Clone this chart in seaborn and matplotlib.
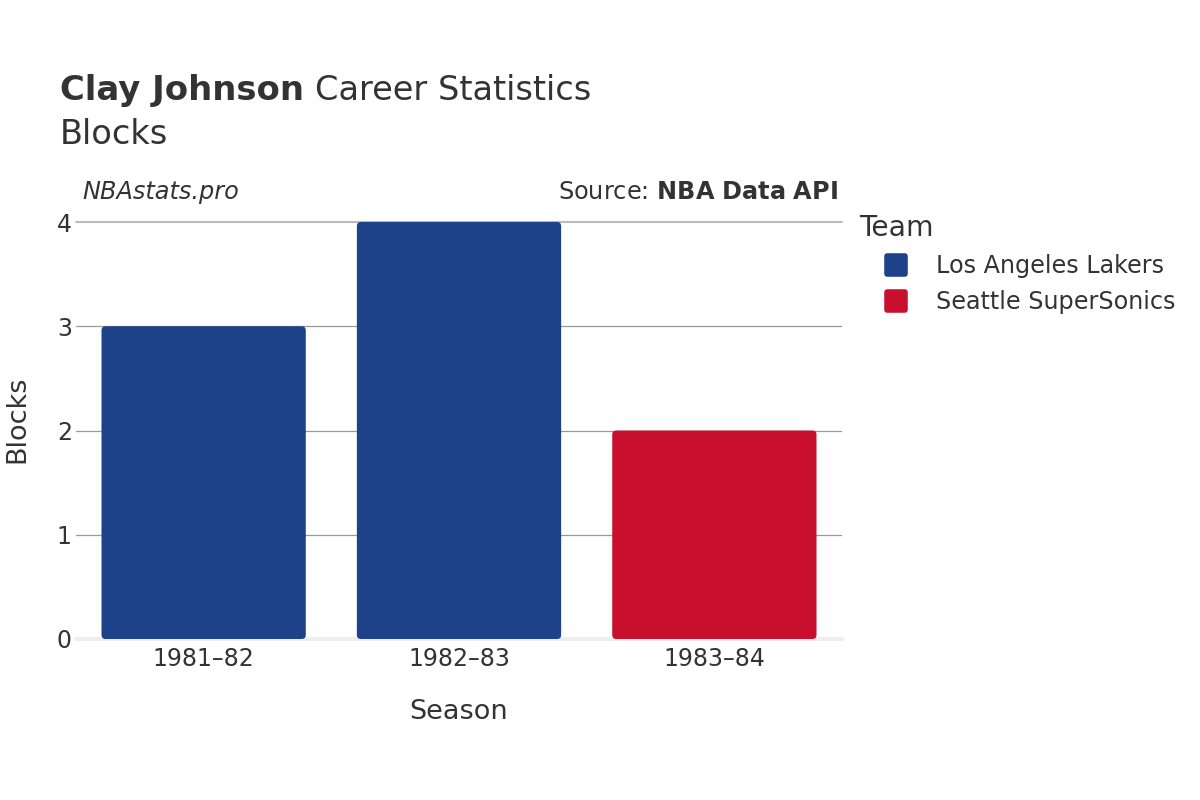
import matplotlib
matplotlib.use("Agg")
import matplotlib.pyplot as plt
from matplotlib.patches import FancyBboxPatch
from matplotlib.lines import Line2D
from matplotlib.markers import MarkerStyle
import pandas as pd
import seaborn as sns

# dati
seasons = ["1981\u201382", "1982\u201383", "1983\u201384"]
teams = ["Los Angeles Lakers", "Los Angeles Lakers", "Seattle SuperSonics"]
blocks = [3, 4, 2]
team_colors = {"Los Angeles Lakers": "#1D428A", "Seattle SuperSonics": "#C8102E"}

df = pd.DataFrame({"season": seasons, "team": teams, "blocks": blocks})

sns.set_style("white")
plt.rcParams["font.family"] = ["DejaVu Sans"]
text_col = "#333333"

fig = plt.figure(figsize=(12, 8), dpi=100)
ax = fig.add_axes([0.0633, 0.20125, 0.6384, 0.52125])

sns.barplot(data=df, x="season", y="blocks", hue="team", palette=team_colors,
            dodge=False, width=0.8, legend=False, ax=ax, saturation=1)

# angoli arrotondati sulle barre (aspetto px: 255 px per unità x, 104 px per unità y)
for p in list(ax.patches):
    x0, y0, w, h = p.get_x(), p.get_y(), p.get_width(), p.get_height()
    if h <= 0:
        continue
    rounded = FancyBboxPatch((x0, y0), w, h, boxstyle="round,pad=0,rounding_size=0.016",
                             mutation_aspect=2.45, facecolor=p.get_facecolor(),
                             edgecolor="none", zorder=3)
    p.remove()
    ax.add_patch(rounded)

ax.set_xlim(-0.5, 2.5)
ax.set_ylim(0, 4)
ax.set_yticks([0, 1, 2, 3, 4])
for v in [1, 2, 3]:
    ax.axhline(v, color="#999999", lw=0.9, zorder=1)
ax.axhline(4, color="#bbbbbb", lw=1.5, zorder=1, clip_on=False)
ax.axhline(0, color="#eeeeee", lw=3, zorder=2, clip_on=False)

for s in ax.spines.values():
    s.set_visible(False)
ax.tick_params(axis="both", length=0, labelsize=17, colors=text_col, pad=6)
ax.tick_params(axis="y", pad=3)
ax.set_xlabel("Season", fontsize=19.5, color=text_col, labelpad=20)
ax.set_ylabel("")
fig.text(17 / 1200, 1 - 419 / 800, "Blocks", fontsize=19.5, color=text_col,
         rotation=90, ha="center", va="center")

# titolo: parte in grassetto seguita dal resto
t1 = fig.text(0.05, 0.875, "Clay Johnson", fontsize=24.4, fontweight="bold", color=text_col)
fig.canvas.draw()
bb = t1.get_window_extent()
fig.text((bb.x1 + 11) / 1200, 0.875, "Career Statistics", fontsize=24.2, color=text_col)
fig.text(0.05, 0.8205, "Blocks", fontsize=24.2, color=text_col)

ax.text(0.008, 1.072, "NBAstats.pro", transform=ax.transAxes, fontsize=17.3,
        style="italic", color=text_col, va="center")
ax.text(0.995, 1.072, "Source: $\\bf{NBA\\ Data\\ API}$", transform=ax.transAxes,
        fontsize=17.3, color=text_col, va="center", ha="right")

marker = MarkerStyle("s", joinstyle="round")
handles = [Line2D([], [], marker=marker, ls="", markersize=13, markerfacecolor=c,
                  markeredgecolor=c, markeredgewidth=4, label=t)
           for t, c in team_colors.items()]
leg = fig.legend(handles=handles, title="Team", loc="upper left",
                 bbox_to_anchor=(0.708, 0.744), frameon=False, fontsize=17.2,
                 title_fontsize=20.3, handlelength=3.1, handletextpad=0.12,
                 labelspacing=0.5, borderaxespad=0)
leg._legend_box.align = "left"
for t in leg.get_texts():
    t.set_color(text_col)
leg.get_title().set_color(text_col)

fig.savefig("out.png", dpi=100)
